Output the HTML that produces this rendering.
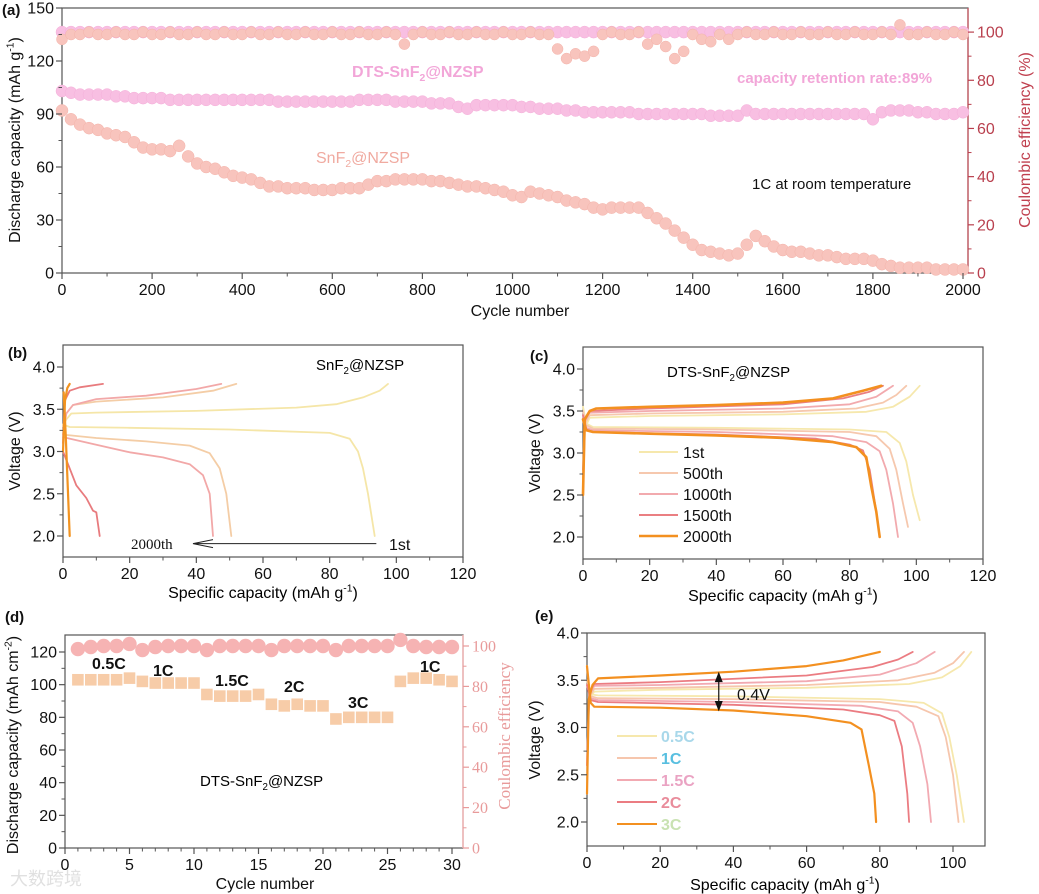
<!DOCTYPE html>
<html><head><meta charset="utf-8"><style>
html,body{margin:0;padding:0;background:#fff;}
svg{display:block;font-family:"Liberation Sans","Noto Sans CJK SC",sans-serif;}
</style></head><body>
<svg id="chart" width="1039" height="894" viewBox="0 0 1039 894" xmlns="http://www.w3.org/2000/svg"></svg>
<script>
// ---------- Panel (a) data: sampled every 20 cycles ----------
const aCycleStep = 20;
const aSnCap = [92,87,84,82,81,79,78,77,74,71,70,70,69,72,66,62,60,59,57,55,54,53,51,49,49,48,48,48,47,47,47,48,48,48,50,52,52,53,53,53,53,52,52,51,50,49,49,48,47,46,44,43,46,45,44,43,41,40,39,37,36,37,37,37,37,34,31,28,24,20,16,13,12,11,10,11,16,21,18,15,13,12,12,11,10,10,9,8,8,8,7,5,4,3,3,3,3,2,2,2,2];
const aDtsCap = [103,102,101,101,101,101,100,100,99,99,99,99,98,98,98,98,98,98,98,98,98,98,98,98,97,97,97,97,97,97,97,97,97,98,98,98,98,97,97,97,97,96,96,96,94,93,95,95,95,95,95,94,94,93,93,93,92,92,91,91,91,91,91,91,90,90,90,90,90,90,90,90,89,89,89,89,92,90,90,90,90,90,90,90,90,90,90,90,90,90,87,91,92,92,92,91,91,90,90,90,91];
const aSnCE = [97,99,99,100,99,99,100,99,99,100,99,99,100,99,99,100,99,99,100,99,99,100,99,99,100,99,99,100,99,99,100,99,99,100,99,99,100,99,95,99,100,99,99,100,99,99,100,99,99,100,99,99,100,99,99,93,89,91,90,92,99,100,99,99,100,95,97,94,89,92,99,97,96,99,97,99,100,99,99,100,99,99,100,99,99,100,99,99,100,99,99,100,99,103,99,99,100,99,99,100,99];
const aDtsCE = [100,100,100,100,100,100,100,100,100,100,100,100,100,100,100,100,100,100,100,100,100,100,100,100,100,100,100,100,100,100,100,100,100,100,100,100,100,100,100,100,100,100,100,100,100,100,100,100,100,100,100,100,100,100,100,100,100,100,100,100,100,100,100,100,100,100,100,100,100,100,100,100,100,100,100,100,100,100,100,100,100,100,100,100,100,100,100,100,100,100,100,100,100,100,100,100,100,100,100,100,100];
const aXTicks = [0,200,400,600,800,1000,1200,1400,1600,1800,2000];
const aYTicks = [0,30,60,90,120,150];
const aY2Ticks = [0,20,40,60,80,100];

// ---------- Panel (b) curves [capacity, voltage] ----------
const bCurveNames = ['1st','500th','1000th','1500th','2000th'];
const bCharge1 = [[0,3.3],[1,3.38],[2.5,3.45],[10,3.46],[40,3.48],[70,3.52],[82,3.56],[90,3.64],[95,3.72],[97.5,3.8]];
const bDis1 = [[0,3.32],[2,3.29],[20,3.28],[50,3.26],[80,3.22],[86,3.15],[88.5,3.0],[90,2.8],[91.5,2.5],[93.5,2.0]];
const bCharge2 = [[0,3.2],[1,3.45],[3,3.55],[10,3.59],[30,3.64],[45,3.72],[52,3.8]];
const bDis2 = [[0,3.2],[10,3.16],[25,3.12],[38,3.07],[44,2.98],[47,2.8],[49,2.5],[50.5,2.0]];
const bCharge3 = [[0,3.2],[1,3.45],[3,3.55],[10,3.62],[25,3.66],[40,3.74],[47.5,3.8]];
const bDis3 = [[0,3.17],[10,3.08],[20,2.99],[30,2.93],[38,2.85],[42,2.72],[44,2.5],[45,2.0]];
const bCharge4 = [[0,3.1],[0.5,3.6],[2,3.72],[5,3.76],[12,3.8]];
const bDis4 = [[0,3.0],[2,2.8],[4,2.6],[7,2.45],[9,2.3],[10,2.28],[11,2.0]];
const bCharge5 = [[0,3.0],[0.6,3.6],[1.3,3.75],[2,3.8]];
const bDis5 = [[0.2,3.7],[0.8,3.2],[1.4,2.6],[2,2.0]];

// ---------- Panel (c) curves ----------
const cCurveNames = ['1st','500th','1000th','1500th','2000th'];
const cCharge1 = [[0,2.5],[0.6,3.3],[2,3.42],[20,3.44],[60,3.46],[85,3.49],[93,3.55],[98,3.67],[101,3.8]];
const cDis1 = [[0,3.55],[1,3.35],[3,3.31],[40,3.3],[80,3.28],[91,3.25],[95,3.12],[97,2.9],[99,2.5],[101,2.2]];
const cCharge2 = [[0,2.6],[0.6,3.35],[2,3.45],[20,3.47],[60,3.49],[82,3.53],[90,3.6],[94,3.69],[97,3.8]];
const cDis2 = [[0,3.5],[1,3.33],[3,3.29],[40,3.28],[80,3.25],[88,3.2],[92,3.05],[94,2.8],[96,2.4],[97.5,2.12]];
const cCharge3 = [[0,2.7],[0.6,3.38],[2,3.48],[20,3.5],[60,3.53],[80,3.58],[88,3.67],[93,3.8]];
const cDis3 = [[0,3.45],[1,3.3],[3,3.27],[40,3.25],[75,3.2],[85,3.13],[89,3.02],[91,2.8],[93,2.4],[94.5,2.0]];
const cCharge4 = [[0,2.8],[0.6,3.4],[2,3.5],[20,3.53],[60,3.58],[78,3.65],[86,3.73],[90,3.8]];
const cDis4 = [[0,3.45],[1,3.28],[3,3.25],[40,3.22],[70,3.17],[80,3.1],[84,3.03],[86,2.8],[88,2.3],[89,2.0]];
const cCharge5 = [[0,2.5],[0.5,3.4],[2,3.5],[4,3.53],[20,3.55],[40,3.57],[60,3.6],[75,3.65],[84,3.74],[89.5,3.8]];
const cDis5 = [[0,3.4],[1,3.27],[3,3.25],[20,3.23],[40,3.21],[60,3.18],[75,3.13],[82,3.07],[85,2.95],[86.5,2.6],[88,2.3],[89,2.0]];

// ---------- Panel (d) data ----------
const dCycles = [1,2,3,4,5,6,7,8,9,10,11,12,13,14,15,16,17,18,19,20,21,22,23,24,25,26,27,28,29,30];
const dCap = [103,103,103,103,104,102,101,101,101,101,94,93,93,93,94,88,87,88,87,87,79,80,80,80,80,102,104,104,103,102];
const dCE = [98.5,99.5,100,100,101,98,99.5,100,100,100,98,100,100,100,100,98,100,100,100,100,98,100,100,100,100,103,100,99.5,99.5,99.5];
const dXTicks = [0,5,10,15,20,25,30];
const dYTicks = [0,20,40,60,80,100,120];
const dY2Ticks = [0,20,40,60,80,100];

// ---------- Panel (e) curves ----------
const eRates = ['0.5C','1C','1.5C','2C','3C'];
const eCharge1 = [[0,2.6],[0.6,3.3],[2,3.38],[20,3.4],[60,3.42],[88,3.46],[97,3.53],[102,3.65],[105,3.8]];
const eDis1 = [[0,3.5],[1,3.35],[3,3.34],[40,3.33],[80,3.3],[92,3.26],[97,3.15],[99,2.9],[101,2.5],[103,2.0]];
const eCharge2 = [[0,2.6],[0.6,3.32],[2,3.41],[20,3.42],[60,3.45],[85,3.5],[95,3.58],[100,3.68],[103,3.8]];
const eDis2 = [[0,3.5],[1,3.33],[3,3.31],[40,3.3],[80,3.27],[90,3.22],[96,3.12],[98,2.9],[100,2.5],[101.5,2.0]];
const eCharge3 = [[0,2.6],[0.6,3.35],[2,3.44],[20,3.45],[60,3.49],[80,3.56],[90,3.68],[95,3.8]];
const eDis3 = [[0,3.45],[1,3.31],[3,3.29],[40,3.27],[75,3.23],[85,3.17],[89,3.05],[91,2.8],[93,2.4],[94,2.0]];
const eCharge4 = [[0,2.6],[0.6,3.38],[2,3.46],[20,3.48],[60,3.55],[78,3.64],[85,3.72],[89,3.8]];
const eDis4 = [[0,3.45],[1,3.29],[3,3.27],[40,3.24],[70,3.19],[80,3.13],[84,3.07],[86,2.8],[87.5,2.3],[88,2.0]];
const eCharge5 = [[0,2.3],[0.5,3.3],[1.5,3.45],[3,3.52],[20,3.55],[40,3.59],[60,3.65],[70,3.71],[80,3.8]];
const eDis5 = [[0,3.65],[1,3.26],[2,3.22],[20,3.21],[40,3.18],[60,3.12],[72,3.05],[75,2.98],[77,2.6],[78.5,2.3],[79,2.0]];

const vTicks = [2.0,2.5,3.0,3.5,4.0];
const capTicks = [0,20,40,60,80,100,120];
const eCapTicks = [0,20,40,60,80,100];

// ---------- helpers ----------
const NS = 'http://www.w3.org/2000/svg';
const svg = document.getElementById('chart');
function mk(tag, attrs, parent){
  const e = document.createElementNS(NS, tag);
  for (const k in attrs) e.setAttribute(k, attrs[k]);
  (parent || svg).appendChild(e);
  return e;
}
function lin(d0,d1,r0,r1){ return v => r0 + (v-d0)*(r1-r0)/(d1-d0); }
function txt(x,y,s,opts,parent,name){
  const t = mk('text', Object.assign({x:x,y:y,'font-size':16,fill:'#111'}, opts||{}), parent);
  t.textContent = s;
  
  
  return t;
}
function group(name){
  const g = mk('g', {});
  
  
  return g;
}
function frame(g, l, t, r, b, rightColor){
  const f = mk('rect', {x:l,y:t,width:r-l,height:b-t,fill:'none',stroke:'#555','stroke-width':1.2}, g);
  
  
  if (rightColor){
    const rl = mk('line', {x1:r,y1:t,x2:r,y2:b,stroke:rightColor,'stroke-width':1.4}, g);
    
    
  }
}
function xAxis(g, ticks, X, yb, fs, minorN){
  ticks.forEach((v,i) => {
    const x = X(v);
    const tk = mk('line', {x1:x,y1:yb,x2:x,y2:yb+6,stroke:'#555','stroke-width':1.2}, g);
    
    
    txt(x, yb+22, String(v), {'text-anchor':'middle','font-size':fs}, g, 'x-tick-label');
    if (i < ticks.length-1){
      for (let k=1;k<minorN;k++){
        const mx = X(v + (ticks[i+1]-v)*k/minorN);
        const mt = mk('line', {x1:mx,y1:yb,x2:mx,y2:yb+3.5,stroke:'#555','stroke-width':1}, g);
        
        
      }
    }
  });
}
function yAxis(g, ticks, Y, xl, fs, fmt, minorN){
  ticks.forEach((v,i) => {
    const y = Y(v);
    const tk = mk('line', {x1:xl-6,y1:y,x2:xl,y2:y,stroke:'#555','stroke-width':1.2}, g);
    
    
    txt(xl-8, y+5.5, fmt(v), {'text-anchor':'end','font-size':fs}, g, 'y-tick-label');
    if (i < ticks.length-1){
      for (let k=1;k<minorN;k++){
        const my = Y(v + (ticks[i+1]-v)*k/minorN);
        const mt = mk('line', {x1:xl-3.5,y1:my,x2:xl,y2:my,stroke:'#555','stroke-width':1}, g);
        
        
      }
    }
  });
}
function y2Axis(g, ticks, Y, xr, fs, color, serif, minorN){
  ticks.forEach((v,i) => {
    const y = Y(v);
    const tk = mk('line', {x1:xr,y1:y,x2:xr+6,y2:y,stroke:color,'stroke-width':1.2}, g);
    
    
    const o = {'font-size':fs, fill:color};
    if (serif) o['font-family'] = '"Liberation Serif", serif';
    txt(xr+9, y+5.5, String(v), o, g, 'y2-tick-label');
    if (i < ticks.length-1){
      for (let k=1;k<minorN;k++){
        const my = Y(v + (ticks[i+1]-v)*k/minorN);
        const mt = mk('line', {x1:xr,y1:my,x2:xr+3.5,y2:my,stroke:color,'stroke-width':1}, g);
        
        
      }
    }
  });
}
function curve(g, pts, X, Y, color, w, name){
  const d = pts.map((p,i) => (i?'L':'M') + X(p[0]).toFixed(1) + ' ' + Y(p[1]).toFixed(1)).join(' ');
  const p = mk('path', {d:d,fill:'none',stroke:color,'stroke-width':w,'stroke-linejoin':'round','stroke-linecap':'round'}, g);
  
  
  return p;
}
function rotLabel(x, y, parts, fs, color, family, parent, name, deg){
  const t = mk('text', {x:0,y:0,'font-size':fs,fill:color,'text-anchor':'middle',transform:`translate(${x},${y}) rotate(${deg===undefined?-90:deg})`}, parent);
  if (family) t.setAttribute('font-family', family);
  
  
  parts.forEach(pt => {
    const s = mk('tspan', {}, t);
    if (pt.sup){ s.setAttribute('font-size', fs*0.65); s.setAttribute('dy', -fs*0.4); }
    if (pt.sub){ s.setAttribute('font-size', fs*0.65); s.setAttribute('dy', fs*0.25); }
    if (pt.back){ s.setAttribute('dy', pt.back); }
    s.textContent = pt.t;
  });
  return t;
}
function richText(x, y, parts, fs, attrs, parent, name){
  const t = mk('text', Object.assign({x:x,y:y,'font-size':fs}, attrs), parent);
  
  
  parts.forEach(pt => {
    const s = mk('tspan', {}, t);
    if (pt.sup){ s.setAttribute('font-size', fs*0.65); s.setAttribute('dy', -fs*0.4); }
    if (pt.sub){ s.setAttribute('font-size', fs*0.65); s.setAttribute('dy', fs*0.25); }
    if (pt.back){ s.setAttribute('dy', pt.back); }
    s.textContent = pt.t;
  });
  return t;
}

// ================= Panel (a) =================
(function(){
  const g = group('panel-a');
  const X = lin(0,2000,62,963), Y = lin(0,150,273,8), Y2 = lin(0,110,273,8);
  frame(g, 62, 8, 968, 273, '#c9606a');
  const pink = '#f8bfe2', salmon = '#f8c4bd';
  aDtsCE.forEach((v,i) => {
    const c = mk('circle', {cx:X(i*aCycleStep),cy:Y2(v),r:6,fill:pink,stroke:'#f5b0da','stroke-width':0.5}, g);
    
    
  });
  aSnCE.forEach((v,i) => {
    const c = mk('circle', {cx:X(i*aCycleStep),cy:Y2(v),r:5.5,fill:salmon,stroke:'#f4b4ab','stroke-width':0.5}, g);
    
    
  });
  aDtsCap.forEach((v,i) => {
    const c = mk('circle', {cx:X(i*aCycleStep),cy:Y(v),r:6,fill:pink,stroke:'#f5b0da','stroke-width':0.5}, g);
    
    
  });
  aSnCap.forEach((v,i) => {
    const c = mk('circle', {cx:X(i*aCycleStep),cy:Y(v),r:6,fill:salmon,stroke:'#f4b4ab','stroke-width':0.5}, g);
    
    
  });
  xAxis(g, aXTicks, X, 273, 16, 2);
  yAxis(g, aYTicks, Y, 62, 16, v=>String(v), 2);
  y2Axis(g, aY2Ticks, Y2, 968, 16, '#b9404e', false, 2);
  txt(2, 15, '(a)', {'font-size':15,'font-weight':'bold'}, g, 'panel-label-a');
  txt(520, 316, 'Cycle number', {'text-anchor':'middle','font-size':16}, g, 'x-axis-title-a');
  rotLabel(20, 140, [{t:'Discharge capacity (mAh g'},{t:'-1',sup:true},{t:')',back:6.4}], 16, '#111', null, g, 'y-axis-title-a');
  rotLabel(1030, 140, [{t:'Coulombic efficiency (%)'}], 16, '#c0404f', null, g, 'y2-axis-title-a');
  richText(352, 77, [{t:'DTS-SnF'},{t:'2',sub:true},{t:'@NZSP',back:-4}], 16, {fill:'#f2a6d8','font-weight':'bold'}, g, 'dts-series-label');
  txt(737, 83, 'capacity retention rate:89%', {'font-size':15,'font-weight':'bold',fill:'#f2a6d8'}, g, 'retention-annotation');
  richText(316, 163, [{t:'SnF'},{t:'2',sub:true},{t:'@NZSP',back:-4}], 16, {fill:'#f0aaa0'}, g, 'snf2-series-label');
  txt(752, 189, '1C at room temperature', {'font-size':15}, g, 'condition-annotation');
})();

// ================= Panel (b) =================
(function(){
  const g = group('panel-b');
  const X = lin(0,120,63,463), Y = lin(2,4,536,367);
  frame(g, 63, 345, 463, 557);
  const cols = ['#f5e6a8','#f4cda6','#f2a8a8','#e87b7e','#f29320'];
  const ch = [bCharge1,bCharge2,bCharge3,bCharge4,bCharge5], di = [bDis1,bDis2,bDis3,bDis4,bDis5];
  for (let i=0;i<5;i++){
    curve(g, ch[i], X, Y, cols[i], i==4?2.2:1.8, 'charge-curve-'+bCurveNames[i]);
    curve(g, di[i], X, Y, cols[i], i==4?2.2:1.8, 'discharge-curve-'+bCurveNames[i]);
  }
  xAxis(g, capTicks, X, 557, 16, 2);
  yAxis(g, vTicks, Y, 63, 16, v=>v.toFixed(1), 2);
  const ar = mk('path', {d:`M${X(94)} ${Y(1.91)} L${X(39)} ${Y(1.91)} M${X(45)} ${Y(1.91)-4} L${X(39)} ${Y(1.91)} L${X(45)} ${Y(1.91)+4}`, fill:'none', stroke:'#222','stroke-width':1}, g);
  
  
  txt(131, 549, '2000th', {'font-size':15,'font-family':'"Liberation Serif", serif'}, g, 'arrow-label-2000th');
  txt(389, 550, '1st', {'font-size':16}, g, 'arrow-label-1st');
  txt(8, 358, '(b)', {'font-size':15,'font-weight':'bold'}, g, 'panel-label-b');
  richText(316, 370, [{t:'SnF'},{t:'2',sub:true},{t:'@NZSP',back:-4}], 15, {}, g, 'panel-b-title');
  richText(263, 598, [{t:'Specific capacity (mAh g'},{t:'-1',sup:true},{t:')',back:6.4}], 16, {'text-anchor':'middle'}, g, 'x-axis-title-b');
  rotLabel(20, 451, [{t:'Voltage (V)'}], 16, '#111', null, g, 'y-axis-title-b');
})();

// ================= Panel (c) =================
(function(){
  const g = group('panel-c');
  const X = lin(0,120,583,983), Y = lin(2,4,537,369);
  frame(g, 583, 347, 983, 559);
  const cols = ['#f6e8ad','#f6c8ae','#f2aaae','#ea7f82','#f39020'];
  const ch = [cCharge1,cCharge2,cCharge3,cCharge4,cCharge5], di = [cDis1,cDis2,cDis3,cDis4,cDis5];
  for (let i=0;i<5;i++){
    curve(g, ch[i], X, Y, cols[i], i==4?2.6:1.8, 'charge-curve-'+cCurveNames[i]);
    curve(g, di[i], X, Y, cols[i], i==4?2.6:1.8, 'discharge-curve-'+cCurveNames[i]);
  }
  xAxis(g, capTicks, X, 559, 16, 2);
  yAxis(g, vTicks, Y, 583, 16, v=>v.toFixed(1), 2);
  cCurveNames.forEach((n,i) => {
    const y = 452 + i*21;
    const l = mk('line', {x1:639,y1:y,x2:678,y2:y,stroke:cols[i],'stroke-width':i==4?2.6:2}, g);
    
    
    txt(683, y+6, n, {'font-size':16}, g, 'legend-label-'+n);
  });
  txt(530, 361, '(c)', {'font-size':15,'font-weight':'bold'}, g, 'panel-label-c');
  richText(667, 377, [{t:'DTS-SnF'},{t:'2',sub:true},{t:'@NZSP',back:-4}], 15, {}, g, 'panel-c-title');
  richText(783, 601, [{t:'Specific capacity (mAh g'},{t:'-1',sup:true},{t:')',back:6.4}], 16, {'text-anchor':'middle'}, g, 'x-axis-title-c');
  rotLabel(540, 453, [{t:'Voltage (V)'}], 16, '#111', null, g, 'y-axis-title-c');
})();

// ================= Panel (d) =================
(function(){
  const g = group('panel-d');
  const X = lin(0,30,65,452), Y = lin(0,120,848,652), Y2 = lin(0,100,848,646);
  frame(g, 65, 635, 463, 848, '#f4b4b4');
  dCE.forEach((v,i) => {
    const c = mk('circle', {cx:X(dCycles[i]),cy:Y2(v),r:7.2,fill:'#f6b3b3'}, g);
    
    
  });
  dCap.forEach((v,i) => {
    const r = mk('rect', {x:X(dCycles[i])-5.8,y:Y(v)-5.8,width:11.6,height:11.6,fill:'#f7cca8'}, g);
    
    
  });
  xAxis(g, dXTicks, X, 848, 16, 5);
  yAxis(g, dYTicks, Y, 65, 16, v=>String(v), 2);
  y2Axis(g, dY2Ticks, Y2, 463, 16, '#e89a9a', true, 2);
  txt(5, 622, '(d)', {'font-size':15,'font-weight':'bold'}, g, 'panel-label-d');
  const rl = [['0.5C',92,669],['1C',153,676],['1.5C',215,686],['2C',284,692],['3C',348,708],['1C',420,672]];
  rl.forEach(r => txt(r[1], r[2], r[0], {'font-size':16,'font-weight':'bold'}, g, 'rate-label-'+r[0]));
  richText(200, 786, [{t:'DTS-SnF'},{t:'2',sub:true},{t:'@NZSP',back:-4}], 15, {}, g, 'panel-d-title');
  txt(265, 889, 'Cycle number', {'text-anchor':'middle','font-size':16}, g, 'x-axis-title-d');
  rotLabel(18, 745, [{t:'Discharge capacity (mAh cm'},{t:'-2',sup:true},{t:')',back:6.4}], 16, '#111', null, g, 'y-axis-title-d');
  rotLabel(510, 736, [{t:'Coulombic efficiency'}], 17, '#e89a9a', '"Liberation Serif", serif', g, 'y2-axis-title-d');
  txt(10, 885, '大数跨境', {'font-size':18,fill:'#ccc',opacity:0.6}, g, 'watermark');
})();

// ================= Panel (e) =================
(function(){
  const g = group('panel-e');
  const X = lin(0,100,587,953), Y = lin(2,4,822,633);
  frame(g, 587, 633, 985, 846);
  const cols = ['#f6e8ad','#f6c6ad','#f2aab2','#eb7c82','#f39020'];
  const ch = [eCharge1,eCharge2,eCharge3,eCharge4,eCharge5], di = [eDis1,eDis2,eDis3,eDis4,eDis5];
  for (let i=0;i<5;i++){
    curve(g, ch[i], X, Y, cols[i], i==4?2.2:1.8, 'charge-curve-'+eRates[i]);
    curve(g, di[i], X, Y, cols[i], i==4?2.2:1.8, 'discharge-curve-'+eRates[i]);
  }
  xAxis(g, eCapTicks, X, 846, 16, 2);
  yAxis(g, vTicks, Y, 587, 16, v=>v.toFixed(1), 2);
  const lc = ['#a9d8ea','#58bfe0','#eaa3c3','#e98c9b','#c9e2b2'];
  eRates.forEach((n,i) => {
    const y = 736 + i*22;
    const l = mk('line', {x1:617,y1:y,x2:657,y2:y,stroke:cols[i],'stroke-width':2}, g);
    
    
    txt(661, y+6, n, {'font-size':16,'font-weight':'bold',fill:lc[i]}, g, 'legend-label-'+n);
  });
  const ax = X(36);
  const arr = mk('path', {d:`M${ax} ${Y(3.57)} L${ax} ${Y(3.19)}`, stroke:'#111','stroke-width':1.2}, g);
  
  
  const h1 = mk('path', {d:`M${ax-4} ${Y(3.48)} L${ax} ${Y(3.59)} L${ax+4} ${Y(3.48)} Z M${ax-4} ${Y(3.28)} L${ax} ${Y(3.17)} L${ax+4} ${Y(3.28)} Z`, fill:'#111'}, g);
  
  
  txt(737, 700, '0.4V', {'font-size':16}, g, 'voltage-gap-label');
  txt(535, 621, '(e)', {'font-size':15,'font-weight':'bold'}, g, 'panel-label-e');
  richText(785, 890, [{t:'Specific capacity (mAh g'},{t:'-1',sup:true},{t:')',back:6.4}], 16, {'text-anchor':'middle'}, g, 'x-axis-title-e');
  rotLabel(540, 740, [{t:'Voltage (V)'}], 16, '#111', null, g, 'y-axis-title-e');
})();
</script>
</body></html>
